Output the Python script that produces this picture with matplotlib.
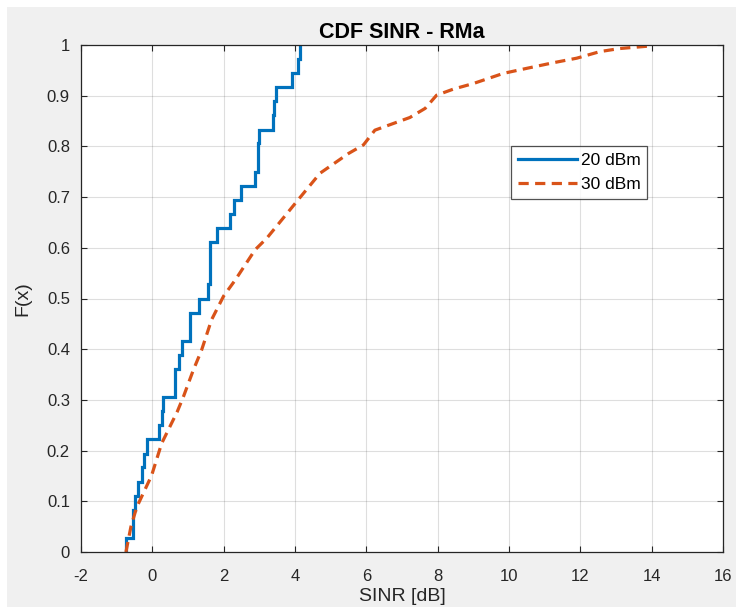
import matplotlib
matplotlib.use("Agg")
import matplotlib.pyplot as plt
from matplotlib.patches import Rectangle

plt.rcParams['font.family'] = ['Liberation Sans', 'DejaVu Sans']
plt.rcParams['axes.unicode_minus'] = False

# 20 dBm: empirical CDF step positions (x where CDF jumps) and levels after jump
x20 = [-0.74, -0.55, -0.48, -0.39, -0.30, -0.23, -0.16, 0.20, 0.26, 0.30,
       0.64, 0.76, 0.82, 1.06, 1.32, 1.55, 1.62, 1.80, 2.17, 2.30,
       2.50, 2.88, 2.95, 2.98, 3.37, 3.42, 3.47, 3.91, 4.09, 4.14]
f20 = [0.028, 0.083, 0.111, 0.139, 0.167, 0.194, 0.222, 0.250, 0.278, 0.306,
       0.361, 0.389, 0.417, 0.472, 0.500, 0.528, 0.611, 0.639, 0.667, 0.694,
       0.722, 0.750, 0.806, 0.833, 0.861, 0.889, 0.917, 0.944, 0.972, 1.000]

# 30 dBm: CDF curve points
x30 = [-0.74, -0.60, -0.44, -0.02, 0.26, 0.70, 0.87, 1.15, 1.38, 1.66,
       2.00, 2.32, 2.88, 3.21, 4.08, 4.70, 5.50, 5.92, 6.24, 6.71,
       7.22, 7.65, 7.97, 8.44, 9.00, 9.84, 10.50, 11.24, 11.90, 12.55,
       13.10, 13.95]
f30 = [0.0, 0.05, 0.088, 0.151, 0.214, 0.277, 0.306, 0.359, 0.398, 0.458,
       0.505, 0.536, 0.596, 0.619, 0.694, 0.747, 0.786, 0.803, 0.832, 0.844,
       0.857, 0.875, 0.901, 0.913, 0.924, 0.944, 0.954, 0.965, 0.974, 0.987,
       0.993, 0.998]

xticks = [-2, 0, 2, 4, 6, 8, 10, 12, 14, 16]
yticks = [0, 0.1, 0.2, 0.3, 0.4, 0.5, 0.6, 0.7, 0.8, 0.9, 1]
ytick_labels = ['0', '0.1', '0.2', '0.3', '0.4', '0.5', '0.6', '0.7', '0.8', '0.9', '1']

W, H = 736, 607
fig = plt.figure(figsize=(W / 100, H / 100), dpi=100, facecolor='white')
fig.patches.append(Rectangle((7 / W, 0), 1 - 7 / W, 1 - 7 / H, transform=fig.transFigure,
                             facecolor='#f0f0f0', edgecolor='none', zorder=-10))

ax = fig.add_axes([81 / W, 1 - 552 / H, (723 - 81) / W, (552 - 45) / H])
ax.set_facecolor('white')

# step curve for 20 dBm
sx = [x20[0]] + x20
sy = [0.0] + f20
ax.step(sx, sy, where='post', color='#0072BD', lw=2.3, label='20 dBm',
        solid_joinstyle='miter')
ax.plot(x30, f30, color='#D95319', lw=2.3, ls=(0, (3.2, 2.0)), label='30 dBm')

ax.set_xlim(-2, 16)
ax.set_ylim(0, 1)
ax.set_xticks(xticks)
ax.set_yticks(yticks)
ax.set_yticklabels(ytick_labels)
ax.grid(True, color='#262626', alpha=0.15, lw=0.8)
ax.set_axisbelow(True)
ax.tick_params(direction='in', length=4, width=0.8, colors='#262626',
               labelsize=12, top=True, right=True)
ax.tick_params(axis='x', pad=12)
ax.tick_params(axis='y', pad=8)
for lab in ax.get_xticklabels() + ax.get_yticklabels():
    lab.set_color('#262626')
for s in ax.spines.values():
    s.set_color('#262626')
    s.set_linewidth(0.9)

ax.set_title('CDF SINR - RMa', fontsize=15.5, fontweight='bold', color='#000000', pad=5)
ax.set_xlabel('SINR [dB]', fontsize=14, color='#262626', labelpad=3)
ax.set_ylabel('F(x)', fontsize=14, color='#262626', labelpad=11)

leg = ax.legend(loc='upper left', bbox_to_anchor=(0.670, 0.801), fontsize=12.5,
                frameon=True, fancybox=False, edgecolor='#262626', handlelength=3.4,
                borderpad=0.4, labelspacing=0.5, handletextpad=0.2, borderaxespad=0)
leg.get_frame().set_linewidth(0.9)

fig.savefig('out.png', dpi=100, facecolor=fig.get_facecolor())
